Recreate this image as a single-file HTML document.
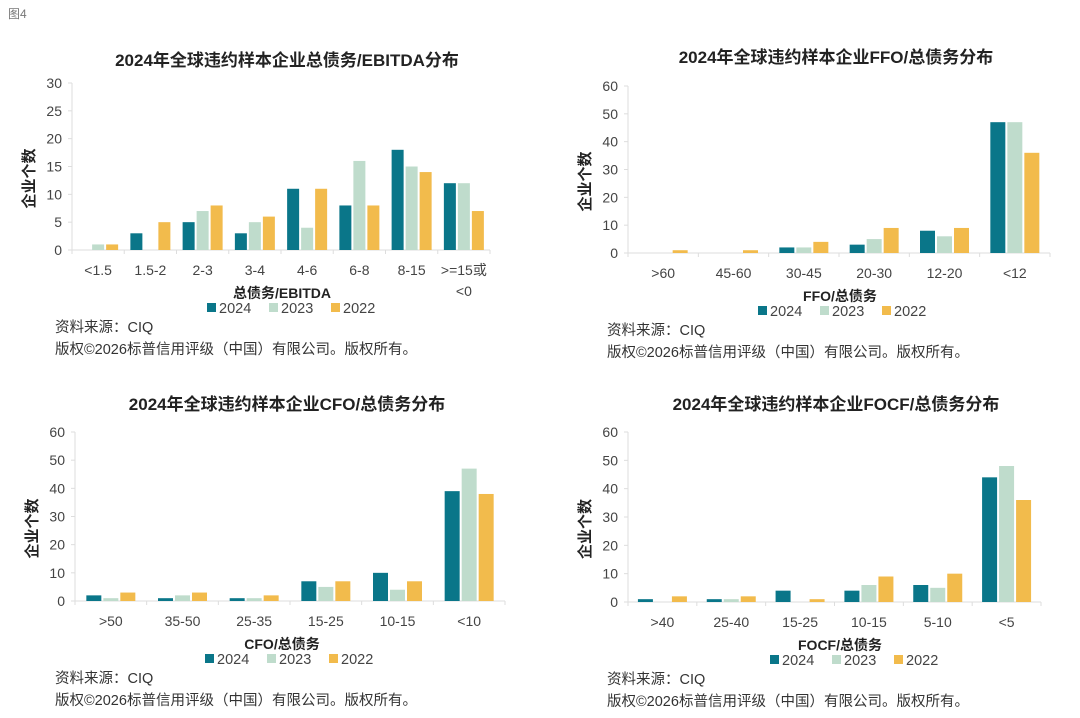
<!DOCTYPE html>
<html><head><meta charset="utf-8"><style>
body{margin:0;background:#fff;width:1080px;height:713px;overflow:hidden;font-family:"Liberation Sans","Noto Sans CJK SC",sans-serif;}
svg text{font-family:"Liberation Sans","Noto Sans CJK SC",sans-serif;}
</style></head><body>
<svg id="s" width="1080" height="713">
<text x="8" y="18" font-size="12" fill="#777">图4</text>
</svg>
<script>
const colors=['#0a7689','#bfdccc','#f2bb4c'];
const years=['2024','2023','2022'];
const c1Cats=['<1.5','1.5-2','2-3','3-4','4-6','6-8','8-15','>=15或|<0'];
const c1Y24=[0,3,5,3,11,8,18,12];
const c1Y23=[1,0,7,5,4,16,15,12];
const c1Y22=[1,5,8,6,11,8,14,7];
const c1Ticks=[0,5,10,15,20,25,30];
const c2Cats=['>60','45-60','30-45','20-30','12-20','<12'];
const c2Y24=[0,0,2,3,8,47];
const c2Y23=[0,0,2,5,6,47];
const c2Y22=[1,1,4,9,9,36];
const c3Cats=['>50','35-50','25-35','15-25','10-15','<10'];
const c3Y24=[2,1,1,7,10,39];
const c3Y23=[1,2,1,5,4,47];
const c3Y22=[3,3,2,7,7,38];
const c4Cats=['>40','25-40','15-25','10-15','5-10','<5'];
const c4Y24=[1,1,4,4,6,44];
const c4Y23=[0,1,0,6,5,48];
const c4Y22=[2,2,1,9,10,36];
const t60=[0,10,20,30,40,50,60];
const S=document.getElementById('s');
function el(tag,a,p){const e=document.createElementNS('http://www.w3.org/2000/svg',tag);for(const k in a)e.setAttribute(k,a[k]);(p||S).appendChild(e);return e;}
function chart(o){
 const g=el('g',{});
 
 
 const ymax=o.ticks[o.ticks.length-1];
 const ys=v=>o.y0-(v/ymax)*(o.y0-o.yTop);
 const n=o.cats.length,cw=(o.x1-o.x0)/n;
 const t=el('text',{x:o.tx,y:o.ty,'font-size':17,'font-weight':'bold','text-anchor':'middle',fill:'#222'},g);t.textContent=o.title;
 
 
 el('line',{x1:o.x0,x2:o.x0,y1:o.yTop,y2:o.y0,stroke:'#ddd'},g);
 el('line',{x1:o.x0,x2:o.x1,y1:o.y0,y2:o.y0,stroke:'#ddd'},g);
 o.ticks.forEach(v=>{
  el('line',{x1:o.x0-4,x2:o.x0,y1:ys(v),y2:ys(v),stroke:'#ddd'},g);
  const tt=el('text',{x:o.x0-10,y:ys(v)+5,'font-size':14,'text-anchor':'end',fill:'#444'},g);tt.textContent=v;
  
  
 });
 for(let i=0;i<=n;i++)el('line',{x1:o.x0+i*cw,x2:o.x0+i*cw,y1:o.y0,y2:o.y0+4,stroke:'#ddd'},g);
 const yl=el('text',{transform:`translate(${o.x0-38},${(o.y0+o.yTop)/2+12}) rotate(-90)`,'font-size':15,'font-weight':'bold','text-anchor':'middle',fill:'#222'},g);yl.textContent='企业个数';
 
 
 const bw=o.bw,gap=2,tot=3*bw+2*gap;
 o.cats.forEach((c,i)=>{
  const cx=o.x0+(i+0.5)*cw;
  c.split('|').forEach((ln,j)=>{const tx=el('text',{x:cx,y:o.y0+25+j*21,'font-size':14,'text-anchor':'middle',fill:'#444'},g);tx.textContent=ln;
   
   });
  o.series.forEach((s,k)=>{
   const v=s[i];if(!v)return;
   const r=el('rect',{x:cx-tot/2+k*(bw+gap),y:ys(v),width:bw,height:o.y0-ys(v),fill:colors[k]},g);
   
   
  });
 });
 const xt=el('text',{x:o.xtx,y:o.y0+48,'font-size':14,'font-weight':'bold','text-anchor':'middle',fill:'#222'},g);xt.textContent=o.xtitle;
 
 
 years.forEach((y,k)=>{
  const lx=o.lx+k*62;
  el('rect',{x:lx,y:o.y0+53,width:9,height:9,fill:colors[k]},g);
  const lt=el('text',{x:lx+12,y:o.y0+63,'font-size':14.5,fill:'#444'},g);lt.textContent=y;
  
  
 });
 const s1=el('text',{x:o.sx,y:o.y0+82,'font-size':14.5,fill:'#333'},g);s1.textContent='资料来源：CIQ';
 
 
 const s2=el('text',{x:o.sx,y:o.y0+104,'font-size':14.5,fill:'#333'},g);s2.textContent='版权©2026标普信用评级（中国）有限公司。版权所有。';
 
 
}
chart({name:'chart-ebitda',title:'2024年全球违约样本企业总债务/EBITDA分布',tx:287,ty:66,cats:c1Cats,series:[c1Y24,c1Y23,c1Y22],ticks:c1Ticks,x0:72,x1:490,yTop:83,y0:250,bw:12,xtitle:'总债务/EBITDA',xtx:282,lx:207,sx:55});
chart({name:'chart-ffo',title:'2024年全球违约样本企业FFO/总债务分布',tx:836,ty:63,cats:c2Cats,series:[c2Y24,c2Y23,c2Y22],ticks:t60,x0:628,x1:1050,yTop:86,y0:253,bw:15,xtitle:'FFO/总债务',xtx:840,lx:758,sx:607});
chart({name:'chart-cfo',title:'2024年全球违约样本企业CFO/总债务分布',tx:287,ty:410,cats:c3Cats,series:[c3Y24,c3Y23,c3Y22],ticks:t60,x0:75,x1:505,yTop:432,y0:601,bw:15,xtitle:'CFO/总债务',xtx:282,lx:205,sx:55});
chart({name:'chart-focf',title:'2024年全球违约样本企业FOCF/总债务分布',tx:836,ty:410,cats:c4Cats,series:[c4Y24,c4Y23,c4Y22],ticks:t60,x0:628,x1:1041,yTop:432,y0:602,bw:15,xtitle:'FOCF/总债务',xtx:840,lx:770,sx:607});
</script>
</body></html>
